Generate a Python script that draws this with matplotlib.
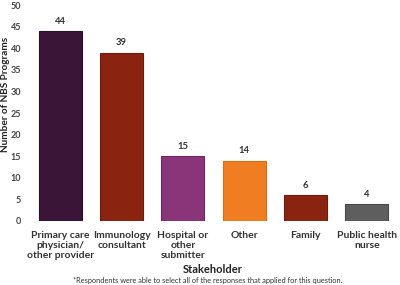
import matplotlib
matplotlib.use("Agg")
import matplotlib.pyplot as plt

plt.rcParams['font.family'] = ['Lato', 'DejaVu Sans']

categories = ["Primary care\nphysician/\nother provider", "Immunology\nconsultant",
              "Hospital or\nother\nsubmitter", "Other", "Family", "Public health\nnurse"]
values = [44, 39, 15, 14, 6, 4]
colors = ["#3b1537", "#8a2410", "#8a3479", "#f07d22", "#8a2410", "#5e5e5e"]
edges = ["#2a0e27", "#6e1c0c", "#6f285f", "#d96c18", "#6e1c0c", "#4a4a4a"]
yticks = [0, 5, 10, 15, 20, 25, 30, 35, 40, 45, 50]

fig = plt.figure(figsize=(4, 2.85), dpi=100)
ax = fig.add_axes([0.074, 0.2246, 0.92, 0.7574])

x = range(len(values))
bars = ax.bar(x, values, width=0.7, color=colors, edgecolor=edges, linewidth=0.8)
for xi, v in zip(x, values):
    ax.text(xi, v + 1.2, str(v), ha='center', va='bottom', fontsize=6.8,
            fontweight='bold', color='#333333')

ax.set_xlim(-0.5, 5.5)
ax.set_ylim(0, 50)
ax.set_yticks(yticks)
ax.set_yticklabels([str(t) for t in yticks], fontsize=6.5, fontweight='bold', color='#444444')
ax.set_xticks(list(x))
ax.set_xticklabels(categories, fontsize=7.5, fontweight='bold', color='#333333', linespacing=1.15)
ax.tick_params(axis='x', length=0, pad=7)
ax.tick_params(axis='y', length=0, pad=6)
for s in ax.spines.values():
    s.set_visible(False)

fig.text(0.013, 0.667, "Number of NBS Programs", rotation=90, ha='center', va='center',
         fontsize=7.2, fontweight='bold', color='#222222')
fig.text(0.532, 0.055, "Stakeholder", ha='center', va='center', fontsize=8,
         fontweight='bold', color='#222222')
fig.text(0.52, 0.015, "*Respondents were able to select all of the responses that applied for this question.",
         ha='center', va='center', fontsize=5.3, color='#333333')

fig.savefig("out.png", dpi=100)
